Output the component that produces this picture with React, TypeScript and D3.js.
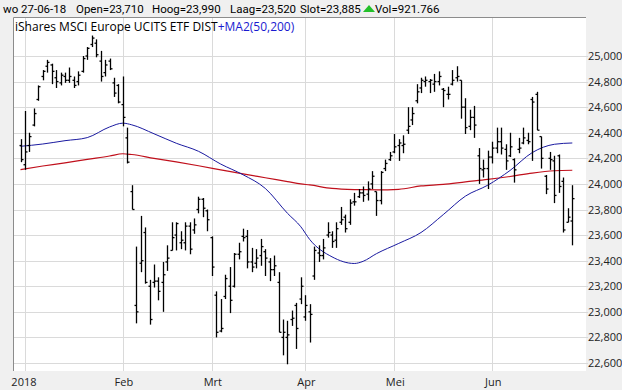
import React, { useEffect, useRef } from 'react';
import * as d3 from 'd3';

// OHLC per trading day, 29-12-17 .. 27-06-18 (index 0 = 29-12-17)
const opens = [
  24.30, 24.15, 24.30, 24.46, 24.66, 24.84, 24.92, 24.93, 24.83, 24.79,
  24.84, 24.81, 24.81, 24.80, 24.88, 25.00, 25.09, 25.10, 24.96, 24.87,
  24.96, 24.79, 24.77, 24.62, 24.36, 23.94, 23.05, 23.38, 23.62, 23.20,
  23.23, 23.24, 23.23, 23.39, 23.48, 23.60, 23.54, 23.54, 23.67, 23.64,
  23.80, 23.88, 23.79, 23.58, 23.13, 22.85, 23.12, 23.20, 23.20, 23.45,
  23.59, 23.59, 23.39, 23.38, 23.44, 23.47, 23.39, 23.33, 23.23, 22.80,
  22.80, 22.94, 23.05, 23.10, 22.96, 23.00, 23.28, 23.46, 23.44, 23.60,
  23.60, 23.56, 23.70, 23.74, 23.70, 23.86, 23.90, 23.93, 23.92, 24.00,
  23.94, 23.87, 24.12, 24.19, 24.25, 24.30, 24.30, 24.42, 24.50, 24.65,
  24.75, 24.80, 24.80, 24.78, 24.80, 24.74, 24.70, 24.78, 24.83, 24.81,
  24.60, 24.45, 24.52, 24.22, 24.11, 24.12, 24.21, 24.28, 24.33, 24.27,
  24.22, 24.19, 24.27, 24.32, 24.34, 24.66, 24.70, 24.37, 24.06, 24.20,
  24.18, 24.22, 24.02, 23.70, 23.71,
];
const highs = [
  24.35, 24.57, 24.40, 24.59, 24.77, 24.89, 24.97, 24.94, 24.89, 24.87,
  24.87, 24.91, 24.84, 24.88, 25.00, 25.07, 25.16, 25.13, 25.04, 24.97,
  24.98, 24.83, 24.78, 24.84, 24.44, 23.99, 23.51, 23.75, 23.66, 23.25,
  23.37, 23.27, 23.39, 23.52, 23.70, 23.70, 23.63, 23.70, 23.70, 23.73,
  23.90, 23.89, 23.80, 23.59, 23.16, 23.10, 23.29, 23.35, 23.46, 23.54,
  23.65, 23.64, 23.50, 23.49, 23.57, 23.49, 23.42, 23.44, 23.31, 22.94,
  22.93, 23.01, 23.07, 23.27, 23.13, 23.06, 23.51, 23.52, 23.57, 23.70,
  23.63, 23.70, 23.82, 23.76, 23.88, 23.93, 23.96, 23.98, 24.02, 24.10,
  23.94, 24.10, 24.19, 24.25, 24.39, 24.35, 24.38, 24.60, 24.60, 24.78,
  24.83, 24.84, 24.82, 24.86, 24.88, 24.75, 24.76, 24.89, 24.92, 24.81,
  24.67, 24.58, 24.61, 24.28, 24.19, 24.26, 24.33, 24.44, 24.44, 24.31,
  24.40, 24.20, 24.36, 24.44, 24.40, 24.68, 24.72, 24.37, 24.07, 24.25,
  24.22, 24.23, 24.05, 23.81, 23.99,
];
const lows = [
  24.17, 24.11, 24.25, 24.45, 24.65, 24.81, 24.87, 24.78, 24.75, 24.77,
  24.79, 24.79, 24.75, 24.77, 24.87, 24.97, 25.07, 24.99, 24.80, 24.84,
  24.89, 24.68, 24.63, 24.45, 24.16, 23.80, 22.91, 23.31, 23.22, 22.90,
  23.19, 23.09, 23.00, 23.32, 23.48, 23.48, 23.49, 23.48, 23.45, 23.61,
  23.77, 23.74, 23.63, 23.28, 22.80, 22.84, 23.10, 22.99, 23.19, 23.41,
  23.55, 23.34, 23.31, 23.34, 23.36, 23.28, 23.24, 23.28, 22.84, 22.66,
  22.59, 22.89, 22.71, 23.06, 22.93, 22.76, 23.25, 23.39, 23.41, 23.58,
  23.50, 23.50, 23.68, 23.62, 23.68, 23.83, 23.89, 23.86, 23.87, 23.96,
  23.75, 23.84, 24.10, 24.18, 24.24, 24.18, 24.24, 24.39, 24.46, 24.63,
  24.71, 24.76, 24.71, 24.72, 24.77, 24.60, 24.66, 24.77, 24.80, 24.51,
  24.39, 24.42, 24.36, 24.00, 24.05, 23.96, 24.16, 24.24, 24.23, 24.11,
  24.21, 24.01, 24.24, 24.31, 24.31, 24.18, 24.42, 24.12, 23.92, 24.11,
  23.85, 23.93, 23.62, 23.70, 23.52,
];
const closes = [
  24.19, 24.25, 24.37, 24.55, 24.76, 24.88, 24.95, 24.88, 24.80, 24.85,
  24.81, 24.84, 24.77, 24.85, 24.98, 25.06, 25.14, 25.01, 24.84, 24.93,
  24.90, 24.71, 24.64, 24.52, 24.17, 23.80, 23.00, 23.40, 23.23, 22.94,
  23.24, 23.16, 23.29, 23.42, 23.58, 23.69, 23.56, 23.67, 23.49, 23.68,
  23.88, 23.81, 23.72, 23.35, 22.84, 22.87, 23.26, 23.09, 23.45, 23.47,
  23.58, 23.39, 23.35, 23.42, 23.51, 23.42, 23.33, 23.36, 22.84, 22.84,
  22.82, 22.95, 22.87, 23.20, 23.05, 22.98, 23.48, 23.44, 23.50, 23.62,
  23.55, 23.65, 23.72, 23.65, 23.85, 23.86, 23.93, 23.91, 23.96, 24.06,
  23.87, 24.09, 24.16, 24.22, 24.29, 24.32, 24.31, 24.45, 24.55, 24.72,
  24.81, 24.81, 24.81, 24.80, 24.84, 24.73, 24.70, 24.81, 24.84, 24.60,
  24.44, 24.52, 24.46, 24.12, 24.12, 24.21, 24.28, 24.33, 24.28, 24.18,
  24.29, 24.11, 24.28, 24.36, 24.33, 24.64, 24.42, 24.20, 23.96, 24.19,
  23.91, 23.98, 23.64, 23.74, 23.885,
];

// moving averages at these bar indices
const maIdx = [0, 5, 10, 15, 20, 23, 25, 30, 35, 40, 45, 50, 55, 60, 63, 65, 70, 75, 77, 80, 85, 90, 95, 100, 105, 110, 115, 120, 124];
const ma50 = [
  24.294, 24.312, 24.338, 24.362, 24.445, 24.475, 24.462, 24.392, 24.318, 24.255,
  24.155, 24.072, 23.965, 23.770, 23.665, 23.565, 23.430, 23.378, 23.395, 23.455,
  23.535, 23.620, 23.760, 23.905, 23.990, 24.105, 24.245, 24.310, 24.320,
];
const ma200 = [
  24.112, 24.140, 24.165, 24.192, 24.218, 24.236, 24.230, 24.200, 24.172, 24.142,
  24.110, 24.078, 24.048, 24.018, 24.000, 23.992, 23.965, 23.956, 23.955, 23.954,
  23.958, 23.984, 23.996, 24.016, 24.035, 24.058, 24.085, 24.103, 24.107,
];

const monthIdx = [1, 23, 43, 64, 84, 106];
const monthLabels = ['2018', 'Feb', 'Mrt', 'Apr', 'Mei', 'Jun'];
const yTicks = [22.6, 22.8, 23.0, 23.2, 23.4, 23.6, 23.8, 24.0, 24.2, 24.4, 24.6, 24.8, 25.0];

const W = 622;
const H = 390;
const FONT = '"Open Sans", "Noto Sans", sans-serif';
const HDR_FONT = 'Roboto, "Liberation Sans", sans-serif';

const App: React.FC = () => {
  const svgRef = useRef<SVGSVGElement>(null);

  useEffect(() => {
    if (!svgRef.current) return;
    const svg = d3.select(svgRef.current);
    svg.selectAll('*').remove();

    const plot = { left: 13, right: 586, top: 17, bottom: 371 };

    const x = d3.scaleLinear().domain([0, 124]).range([20.5, 572.3]);
    const y = d3.scaleLinear().domain([22.6, 25.0]).range([363, 56]);

    // background
    svg.append('rect').attr('width', W).attr('height', H).attr('fill', '#f0f0f0');
    svg.append('rect')
      .attr('x', plot.left).attr('y', plot.top)
      .attr('width', plot.right - plot.left).attr('height', plot.bottom - plot.top)
      .attr('fill', '#ffffff');

    // horizontal grid
    svg.append('g').selectAll('line')
      .data(yTicks).enter().append('line')
      .attr('x1', plot.left).attr('x2', plot.right + 2)
      .attr('y1', d => Math.round(y(d)) + 0.5).attr('y2', d => Math.round(y(d)) + 0.5)
      .attr('stroke', '#dadada');

    // vertical month grid
    svg.append('g').selectAll('line')
      .data(monthIdx).enter().append('line')
      .attr('x1', d => Math.round(x(d)) + 0.5).attr('x2', d => Math.round(x(d)) + 0.5)
      .attr('y1', plot.top).attr('y2', plot.bottom)
      .attr('stroke', '#dadada');

    // plot border (top, left)
    svg.append('path')
      .attr('d', `M${plot.left + 0.5},${plot.bottom}V${plot.top + 0.5}H${plot.right}`)
      .attr('fill', 'none').attr('stroke', '#8c8c8c');

    // y labels
    svg.append('g').selectAll('text')
      .data(yTicks).enter().append('text')
      .attr('x', 588).attr('y', d => y(d) + 4)
      .style('font-family', FONT).style('font-size', '11px').style('fill', '#222')
      .text(d => d3.format('.3f')(d).replace('.', ','));

    // x labels
    svg.append('g').selectAll('text')
      .data(monthIdx).enter().append('text')
      .attr('x', (d, i) => x(d) + (i === 0 ? -1 : 1)).attr('y', 386)
      .attr('text-anchor', 'middle')
      .style('font-family', FONT).style('font-size', '11px').style('fill', '#222')
      .text((d, i) => monthLabels[i]);

    // moving averages
    const maLine = d3.line<number>()
      .x((d, i) => x(maIdx[i]))
      .y(d => y(d))
      .curve(d3.curveMonotoneX);
    svg.append('path').datum(ma200).attr('d', maLine)
      .attr('fill', 'none').attr('stroke', '#c0101c').attr('stroke-width', 1.2);
    svg.append('path').datum(ma50).attr('d', maLine)
      .attr('fill', 'none').attr('stroke', '#1a1aa0').attr('stroke-width', 1);

    // OHLC bars
    const bars = svg.append('g').attr('stroke', '#000').attr('stroke-width', 1.3);
    opens.forEach((o, i) => {
      const cx = Math.round(x(i)) + 0.5;
      bars.append('line').attr('x1', cx).attr('x2', cx)
        .attr('y1', y(highs[i])).attr('y2', y(lows[i]));
      bars.append('line').attr('x1', cx - 2).attr('x2', cx)
        .attr('y1', y(o)).attr('y2', y(o));
      bars.append('line').attr('x1', cx).attr('x2', cx + 2)
        .attr('y1', y(closes[i])).attr('y2', y(closes[i]));
    });

    // legend inside plot
    const legend = svg.append('text').attr('x', 15).attr('y', 31)
      .style('font-family', FONT).style('font-size', '12px');
    legend.append('tspan').style('fill', '#000').text('iShares MSCI Europe UCITS ETF DIST');
    legend.append('tspan').style('fill', '#1a1ad0').text('+MA2(50,200)');

    // header
    const hdr = svg.append('g').style('font-family', HDR_FONT).style('font-size', '11.5px').style('fill', '#000');
    const items = [
      { x: 3, t: 'wo 27-06-18' },
      { x: 76, t: 'Open=23,710' },
      { x: 152, t: 'Hoog=23,990' },
      { x: 230, t: 'Laag=23,520' },
      { x: 300, t: 'Slot=23,885' },
      { x: 375, t: 'Vol=921.766' },
    ];
    items.forEach(d => hdr.append('text').attr('x', d.x).attr('y', 13).text(d.t));
    svg.append('path').attr('d', 'M363,12L369,5L375,12Z').attr('fill', '#22c02a');
  }, []);

  return (
    <svg
      ref={svgRef}
      width={W}
      height={H}
      style={{ position: 'absolute', left: 0, top: 0 }}
    />
  );
};

export default App;
